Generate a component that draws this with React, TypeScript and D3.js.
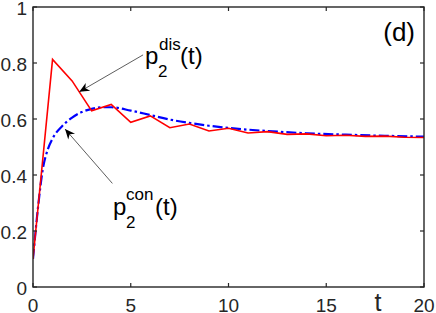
import React from "react";
import * as d3 from "d3";

const discT = [0, 1, 2, 3, 4, 5, 6, 7, 8, 9, 10, 11, 12, 13, 14, 15, 16, 17, 18, 19, 20];
const discP = [0.10, 0.813, 0.736, 0.629, 0.652, 0.588, 0.611, 0.569, 0.582, 0.557, 0.567, 0.550, 0.555, 0.545, 0.547, 0.540, 0.542, 0.538, 0.539, 0.535, 0.534];

const contT = [0, 0.25, 0.5, 0.75, 1, 1.5, 2, 2.5, 3, 3.5, 4, 5, 6, 7, 8, 9, 10, 12, 14, 16, 18, 20];
const contP = [0.10, 0.28, 0.42, 0.49, 0.53, 0.575, 0.605, 0.625, 0.636, 0.642, 0.642, 0.630, 0.614, 0.598, 0.586, 0.576, 0.568, 0.557, 0.549, 0.544, 0.540, 0.537];

const xTicks = [0, 5, 10, 15, 20];
const yTicks = [0, 0.2, 0.4, 0.6, 0.8, 1];
const yTickLabels = ["0", "0.2", "0.4", "0.6", "0.8", "1"];

// annotation arrows in data units: [tailT, tailP, headT, headP]
const disArrow = [5.63, 0.829, 2.37, 0.697];
const conArrow = [4.06, 0.37, 1.64, 0.564];

const W = 436, H = 313;
const L = 33, R = 424, T = 7, B = 287;
const FONT = "'Liberation Sans', Arial, Helvetica, sans-serif";
const AX = "#262626";

function Arrow({ a, x, y }: { a: number[]; x: any; y: any }) {
  const x1 = x(a[0]), y1 = y(a[1]), x2 = x(a[2]), y2 = y(a[3]);
  const ang = (Math.atan2(y2 - y1, x2 - x1) * 180) / Math.PI;
  return (
    <g>
      <line x1={x1} y1={y1} x2={x2} y2={y2} stroke="#333" strokeWidth={0.8} />
      <polygon
        points="0,0 -10,-4.5 -7,0 -10,4.5"
        fill="#000"
        transform={`translate(${x2},${y2}) rotate(${ang})`}
      />
    </g>
  );
}

export default function App() {
  const x = d3.scaleLinear().domain([0, 20]).range([L, R]);
  const y = d3.scaleLinear().domain([0, 1]).range([B, T]);

  const discLine = d3
    .line<number>()
    .x((_, i) => x(discT[i]))
    .y((d) => y(d))(discP) as string;
  const contLine = d3
    .line<number>()
    .x((_, i) => x(contT[i]))
    .y((d) => y(d))
    .curve(d3.curveMonotoneX)(contP) as string;

  return (
    <svg
      width={W}
      height={H}
      style={{ position: "absolute", left: 0, top: 0, background: "#fff" }}
      fontFamily={FONT}
    >
      <rect x={0} y={0} width={W} height={H} fill="#fff" />
      <defs>
        <clipPath id="clip">
          <rect x={L} y={T} width={R - L} height={B - T} />
        </clipPath>
      </defs>
      <g clipPath="url(#clip)">
        <path d={contLine} fill="none" stroke="#0000ff" strokeWidth={2.2} strokeDasharray="10,3,2.5,3" />
        <path d={discLine} fill="none" stroke="#ff0000" strokeWidth={1.6} />
      </g>

      {/* axes box */}
      <rect x={L} y={T} width={R - L} height={B - T} fill="none" stroke={AX} strokeWidth={1.4} />
      {xTicks.map((t) => (
        <g key={"xt" + t}>
          <line x1={x(t)} x2={x(t)} y1={B} y2={B - 4} stroke={AX} strokeWidth={1.2} />
          <line x1={x(t)} x2={x(t)} y1={T} y2={T + 4} stroke={AX} strokeWidth={1.2} />
          <text x={x(t)} y={312} fontSize={19} textAnchor="middle" fill="#262626">
            {t}
          </text>
        </g>
      ))}
      {yTicks.map((v, i) => (
        <g key={"yt" + v}>
          <line x1={L} x2={L + 4} y1={y(v)} y2={y(v)} stroke={AX} strokeWidth={1.2} />
          <line x1={R} x2={R - 4} y1={y(v)} y2={y(v)} stroke={AX} strokeWidth={1.2} />
          <text x={27} y={y(v) + 8} fontSize={19} textAnchor="end" fill="#262626">
            {yTickLabels[i]}
          </text>
        </g>
      ))}

      <text x={378} y={311} fontSize={25} textAnchor="middle" fill="#262626">t</text>
      <text x={415} y={41} fontSize={26} textAnchor="end" fill="#000">(d)</text>

      <Arrow a={disArrow} x={x} y={y} />
      <Arrow a={conArrow} x={x} y={y} />

      {/* p2^dis(t) */}
      <g fill="#000">
        <text x={145} y={64} fontSize={24}>p</text>
        <text x={158} y={77} fontSize={17}>2</text>
        <text x={159} y={50} fontSize={17}>dis</text>
        <text x={180} y={64} fontSize={24}>(t)</text>
      </g>
      {/* p2^con(t) */}
      <g fill="#000">
        <text x={113} y={215} fontSize={24}>p</text>
        <text x={126} y={228} fontSize={17}>2</text>
        <text x={126} y={200} fontSize={17}>con</text>
        <text x={155} y={215} fontSize={24}>(t)</text>
      </g>
    </svg>
  );
}
